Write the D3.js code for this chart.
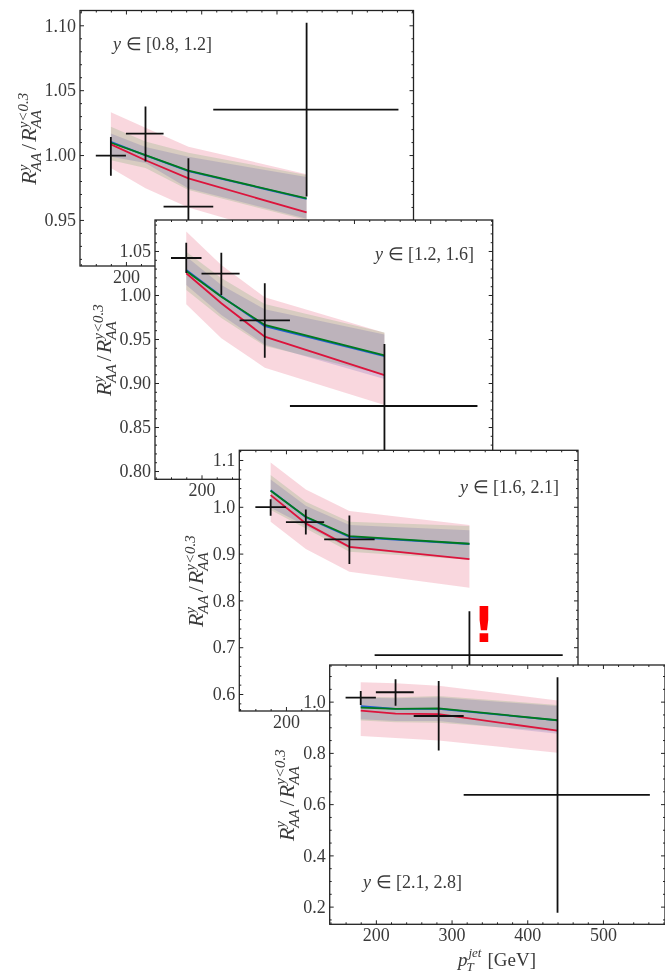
<!DOCTYPE html>
<html lang="en">
<head>
    <meta charset="UTF-8">
    <title>Jet RAA rapidity ratio</title>
    <script src="https://d3js.org/d3.v7.min.js"></script>
    <style>
        html, body { margin: 0; background: #fff; }
        svg { display: block; filter: blur(0.35px); }
        text { font-family: "Liberation Serif", serif; fill: #3a3a3a; }
    </style>
</head>
<body>
    <div id="graph-container"></div>

    <script>
        // pT bins shared by all four rapidity windows
        var ptMid = [180, 226, 283, 440];
        var ptLow = [160, 200, 250, 316];
        var ptHigh = [200, 250, 316, 562];
        var xTicks = [200, 300, 400, 500];

        // y in [0.8, 1.2]
        var data1 = [0.9995, 1.0165, 0.9602, 1.035];
        var errLo1 = [0.984, 0.995, 0.925, 0.968];
        var errHi1 = [1.014, 1.0375, 0.9975, 1.102];
        var green1 = [1.0095, 1.0, 0.988, 0.9666];
        var blue1 = [1.0102, 0.9998, 0.9877, 0.9662];
        var red1 = [1.0082, 0.996, 0.982, 0.9558];
        var redBandHi1 = [1.033, 1.021, 1.0064, 0.9853];
        var redBandLo1 = [0.99, 0.9745, 0.9595, 0.933];
        var greenBandHi1 = [1.0218, 1.0105, 1.0018, 0.9846];
        var greenBandLo1 = [0.996, 0.99, 0.973, 0.95];
        var blueBandHi1 = [1.0167, 1.0062, 0.9987, 0.983];
        var blueBandLo1 = [0.9987, 0.9938, 0.9743, 0.951];
        var yTicks1 = [0.95, 1.0, 1.05, 1.1];

        // y in [1.2, 1.6]
        var data2 = [1.042, 1.0242, 0.9712, 0.8739];
        var errLo2 = [1.025, 1.0, 0.9288, 0.8];
        var errHi2 = [1.0594, 1.048, 1.0133, 0.9443];
        var green2 = [1.0273, 0.998, 0.966, 0.9315];
        var blue2 = [1.0283, 0.9985, 0.9645, 0.9305];
        var red2 = [1.0247, 0.9906, 0.9526, 0.909];
        var redBandHi2 = [1.072, 1.034, 0.9973, 0.9572];
        var redBandLo2 = [0.9894, 0.9508, 0.9174, 0.875];
        var greenBandHi2 = [1.0492, 1.0193, 0.9898, 0.9575];
        var greenBandLo2 = [1.0057, 0.9739, 0.942, 0.909];
        var blueBandHi2 = [1.0436, 1.0114, 0.9837, 0.955];
        var blueBandLo2 = [1.0114, 0.9773, 0.9435, 0.9045];
        var yTicks2 = [0.8, 0.85, 0.9, 0.95, 1.0, 1.05];

        // y in [1.6, 2.1]
        var data3 = [0.9994, 0.9673, 0.9303, 0.683];
        var errLo3 = [0.981, 0.941, 0.878, 0.59];
        var errHi3 = [1.016, 0.9944, 0.9816, 0.777];
        var green3 = [1.0342, 0.9786, 0.9374, 0.921];
        var blue3 = [1.0352, 0.9776, 0.9355, 0.9205];
        var red3 = [1.025, 0.9645, 0.9145, 0.888];
        var redBandHi3 = [1.0949, 1.0372, 0.9908, 0.961];
        var redBandLo3 = [0.968, 0.9096, 0.861, 0.827];
        var greenBandHi3 = [1.0677, 1.0107, 0.968, 0.9587];
        var greenBandLo3 = [0.993, 0.9538, 0.904, 0.8868];
        var blueBandHi3 = [1.0585, 1.002, 0.961, 0.95];
        var blueBandLo3 = [0.998, 0.9587, 0.911, 0.888];
        var yTicks3 = [0.6, 0.7, 0.8, 0.9, 1.0, 1.1];

        // y in [2.1, 2.8]
        var data4 = [1.0156, 1.0366, 0.944, 0.636];
        var errLo4 = [0.987, 0.984, 0.809, 0.176];
        var errHi4 = [1.0418, 1.0875, 1.081, 1.095];
        var green4 = [0.9766, 0.9715, 0.974, 0.9274];
        var blue4 = [0.982, 0.972, 0.972, 0.927];
        var red4 = [0.965, 0.953, 0.951, 0.887];
        var redBandHi4 = [1.0757, 1.0718, 1.0625, 1.004];
        var redBandLo4 = [0.866, 0.8583, 0.848, 0.801];
        var greenBandHi4 = [1.0195, 1.017, 1.022, 0.987];
        var greenBandLo4 = [0.926, 0.9196, 0.918, 0.883];
        var blueBandHi4 = [1.0156, 1.013, 1.017, 0.983];
        var blueBandLo4 = [0.931, 0.9247, 0.9247, 0.875];
        var yTicks4 = [0.2, 0.4, 0.6, 0.8, 1.0];

        var width = 665;
        var height = 974;

        var svg = d3.select("#graph-container")
                    .append("svg")
                    .attr("width", width)
                    .attr("height", height);

        var panels = [
            { box: [80, 10.5, 413.5, 266], yDomain: [0.9145, 1.1114], yMajor: yTicks1, yMinorStep: 0.01, fmt: ".2f",
              label: "[0.8, 1.2]", labelPos: [113, 50], yLabelGap: 44,
              data: data1, errLo: errLo1, errHi: errHi1, green: green1, blue: blue1, red: red1,
              redHi: redBandHi1, redLo: redBandLo1, greenHi: greenBandHi1, greenLo: greenBandLo1, blueHi: blueBandHi1, blueLo: blueBandLo1 },
            { box: [155, 220, 492.7, 479.3], yDomain: [0.7906, 1.0852], yMajor: yTicks2, yMinorStep: 0.01, fmt: ".2f",
              label: "[1.2, 1.6]", labelPos: [375, 260], yLabelGap: 44,
              data: data2, errLo: errLo2, errHi: errHi2, green: green2, blue: blue2, red: red2,
              redHi: redBandHi2, redLo: redBandLo2, greenHi: greenBandHi2, greenLo: greenBandLo2, blueHi: blueBandHi2, blueLo: blueBandLo2 },
            { box: [239.3, 450.3, 578, 711], yDomain: [0.5637, 1.1207], yMajor: yTicks3, yMinorStep: 0.02, fmt: ".1f",
              label: "[1.6, 2.1]", labelPos: [460, 493], yLabelGap: 36,
              data: data3, errLo: errLo3, errHi: errHi3, green: green3, blue: blue3, red: red3,
              redHi: redBandHi3, redLo: redBandLo3, greenHi: greenBandHi3, greenLo: greenBandLo3, blueHi: blueBandHi3, blueLo: blueBandLo3 },
            { box: [329.7, 665, 665, 924.3], yDomain: [0.131, 1.143], yMajor: yTicks4, yMinorStep: 0.05, fmt: ".1f",
              label: "[2.1, 2.8]", labelPos: [363, 888], yLabelGap: 36,
              data: data4, errLo: errLo4, errHi: errHi4, green: green4, blue: blue4, red: red4,
              redHi: redBandHi4, redLo: redBandLo4, greenHi: greenBandHi4, greenLo: greenBandLo4, blueHi: blueBandHi4, blueLo: blueBandLo4 }
        ];

        panels.forEach(function(p, i) {
            var x = d3.scaleLinear().domain([139, 582]).range([p.box[0], p.box[2]]);
            var y = d3.scaleLinear().domain(p.yDomain).range([p.box[3], p.box[1]]);
            var g = svg.append("g");

            g.append("clipPath").attr("id", "clip" + i).append("rect")
                .attr("x", p.box[0]).attr("y", p.box[1])
                .attr("width", p.box[2] - p.box[0]).attr("height", p.box[3] - p.box[1]);

            // white patch, this is what hides the panel underneath
            g.append("rect")
                .attr("x", p.box[0]).attr("y", p.box[1])
                .attr("width", p.box[2] - p.box[0]).attr("height", p.box[3] - p.box[1])
                .attr("fill", "#fff");

            var plot = g.append("g").attr("clip-path", "url(#clip" + i + ")");

            function band(lo, hi, color, alpha) {
                var area = d3.area()
                    .x(function(d, k) { return x(ptMid[k]); })
                    .y0(function(d, k) { return y(lo[k]); })
                    .y1(function(d, k) { return y(hi[k]); });
                plot.append("path").attr("d", area(ptMid)).attr("fill", color).attr("fill-opacity", alpha);
            }
            band(p.redLo, p.redHi, "#dc143c", 0.17);
            band(p.greenLo, p.greenHi, "#008000", 0.13);
            band(p.blueLo, p.blueHi, "#000096", 0.12);

            function curve(values, color) {
                var line = d3.line()
                    .x(function(d, k) { return x(ptMid[k]); })
                    .y(function(d) { return y(d); });
                plot.append("path").attr("d", line(values)).attr("fill", "none")
                    .attr("stroke", color).attr("stroke-width", 1.8);
            }
            curve(p.blue, "#1f5fd0");
            curve(p.green, "#007a1e");
            curve(p.red, "#dc143c");

            // data points with bin width and errors
            var pts = plot.selectAll("g.pt").data(p.data).enter().append("g").attr("class", "pt");
            pts.append("line")
                .attr("x1", function(d, k) { return x(ptLow[k]); })
                .attr("x2", function(d, k) { return x(ptHigh[k]); })
                .attr("y1", function(d) { return y(d); })
                .attr("y2", function(d) { return y(d); })
                .attr("stroke", "#111").attr("stroke-width", 1.8);
            pts.append("line")
                .attr("x1", function(d, k) { return x(ptMid[k]); })
                .attr("x2", function(d, k) { return x(ptMid[k]); })
                .attr("y1", function(d, k) { return y(p.errLo[k]); })
                .attr("y2", function(d, k) { return y(p.errHi[k]); })
                .attr("stroke", "#111").attr("stroke-width", 1.8);

            // ticks on all four sides, pointing in
            var xMinor = d3.range(140, 582, 20).filter(function(v) { return xTicks.indexOf(v) < 0; });
            var yMinor = d3.range(Math.ceil(p.yDomain[0] / p.yMinorStep), p.yDomain[1] / p.yMinorStep)
                .map(function(v) { return v * p.yMinorStep; })
                .filter(function(v) {
                    return !p.yMajor.some(function(t) { return Math.abs(t - v) < 1e-6; });
                });

            function ticks(axis, tr, values, len, labels) {
                var a = g.append("g").attr("transform", "translate(" + tr + ")")
                    .call(axis.tickValues(values).tickSize(len).tickSizeOuter(0).tickPadding(5)
                        .tickFormat(labels || ""));
                a.select(".domain").remove();
                a.selectAll("line").attr("stroke", "#222").attr("stroke-width", 1);
                a.selectAll("text").attr("font-size", 18).attr("font-family", null).attr("fill", null);
                return a;
            }
            var fx = d3.format("d");
            var fy = d3.format(p.fmt);
            ticks(d3.axisBottom(x), "0," + p.box[3], xMinor, -2);
            ticks(d3.axisTop(x), "0," + p.box[1], xMinor, -2);
            ticks(d3.axisLeft(y), p.box[0] + ",0", yMinor, -2);
            ticks(d3.axisRight(y), p.box[2] + ",0", yMinor, -2);
            ticks(d3.axisTop(x), "0," + p.box[1], xTicks, -4);
            ticks(d3.axisRight(y), p.box[2] + ",0", p.yMajor, -4);
            ticks(d3.axisBottom(x), "0," + p.box[3], xTicks, -4, fx)
                .selectAll("text").attr("dy", null).attr("y", 17);
            ticks(d3.axisLeft(y), p.box[0] + ",0", p.yMajor, -4, fy)
                .selectAll("text").attr("x", -4);

            // spines
            g.append("rect")
                .attr("x", p.box[0]).attr("y", p.box[1])
                .attr("width", p.box[2] - p.box[0]).attr("height", p.box[3] - p.box[1])
                .attr("fill", "none").attr("stroke", "#222").attr("stroke-width", 1.3);

            // window label
            var tag = g.append("text").attr("x", p.labelPos[0]).attr("y", p.labelPos[1]).attr("font-size", 18);
            tag.append("tspan").attr("font-style", "italic").text("y");
            tag.append("tspan").text(" \u2208 " + p.label);

            yLabel(g, p.box[0] - p.yLabelGap, (p.box[1] + p.box[3]) / 2);
        });

        // R^y_AA / R^{y<0.3}_AA, rotated, pieces placed one after the other
        function yLabel(parent, px, py) {
            var g = parent.append("g");
            var inner = g.append("g");
            var pos = 0;
            function piece(txt, size, dy, italic, advance) {
                var t = inner.append("text").attr("x", pos).attr("y", dy).attr("font-size", size)
                    .attr("font-style", italic ? "italic" : "normal").text(txt);
                var w = t.node().getComputedTextLength();
                if (advance) pos += w;
                return w;
            }
            function rTerm(sup) {
                piece("R", 22, 0, true, true);
                var start = pos;
                var w1 = piece(sup, 15, -8.5, true, false);
                var w2 = piece("AA", 15, 5, true, false);
                pos = start + Math.max(w1, w2) + 1;
            }
            rTerm("y");
            pos += 2;
            piece("/", 22, 0, false, true);
            pos += 2;
            rTerm("y<0.3");
            inner.attr("transform", "translate(" + (-pos / 2) + ",0)");
            g.attr("transform", "translate(" + px + "," + py + ") rotate(-90)");
        }

        // x label on the last panel only
        var xl = svg.append("text").attr("x", 497).attr("y", 966).attr("font-size", 19).attr("text-anchor", "middle");
        xl.append("tspan").attr("font-style", "italic").text("p");
        xl.append("tspan").attr("font-style", "italic").attr("font-size", 13).attr("dy", -9).attr("dx", 1).text("jet");
        xl.append("tspan").attr("font-style", "italic").attr("font-size", 13).attr("dy", 14).attr("dx", -15).text("T");
        xl.append("tspan").attr("dy", -5).attr("dx", 9).text(" [GeV]");

        // red warning mark in the [1.6, 2.1] panel
        svg.append("text").attr("x", 484).attr("y", 642)
            .attr("text-anchor", "middle")
            .style("font-family", "'DejaVu Sans'")
            .style("font-weight", "bold")
            .style("font-size", "49px")
            .style("fill", "red")
            .text("!");
    </script>
</body>
</html>
